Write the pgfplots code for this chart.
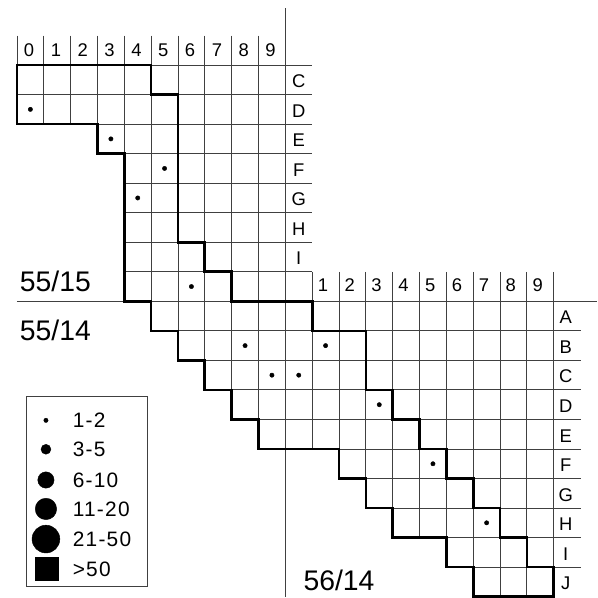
\documentclass[border=0pt]{standalone}
\usepackage{fontspec}
\setmainfont{Liberation Sans}
\usepackage{pgfplots}
\pgfplotsset{compat=1.18}

\newcommand{\labfont}{\fontsize{18.5}{18.5}\selectfont}
\newcommand{\sheetfont}{\fontsize{28.5}{28.5}\selectfont}
\newcommand{\legfont}{\fontsize{21}{21}\selectfont\addfontfeatures{LetterSpace=6}}

\begin{document}
\begin{tikzpicture}
\begin{axis}[
    scale only axis,
    width=598bp, height=598bp,
    xmin=-0.632, xmax=21.6,
    ymin=-2.203, ymax=18.0,
    y dir=reverse,
    hide axis,
    clip=false,
    thin grid/.style={black!75, line width=0.9bp},
    bold line/.style={black, line width=2.7bp, line join=miter, line cap=rect},
]
% keep the whole frame in the bounding box
\path (rel axis cs:0,0) rectangle (rel axis cs:1,1);

% thin cell lines: start point and length of each segment
\addplot[thin grid, quiver={u=\thisrow{du}, v=\thisrow{dv}}] table {
x  y     du    dv
0  0     11    0
0  1     11    0
0  2     11    0
3  3     8     0
4  4     7     0
4  5     7     0
4  6     7     0
4  7     7     0
0  8     21.6  0
5  9     16    0
6  10    15    0
7  11    14    0
8  12    13    0
9  13    12    0
12 14    9     0
13 15    8     0
14 16    7     0
16 17    5     0
0  -1    0     3
1  -1    0     3
2  -1    0     3
3  -1    0     4
4  -1    0     9
5  -1    0     10
6  -1    0     11
7  -1    0     12
8  -1    0     13
9  -1    0     14
10 -1.93 0     19.93
11 7     0     6
12 7     0     7
13 7     0     8
14 7     0     9
15 7     0     9
16 7     0     10
17 7     0     11
18 7     0     11
19 7     0     11
20 7     0     11
};

% outer boundary (left and lower staircase)
\addplot[bold line] coordinates {
(5,0) (0,0) (0,2) (3,2) (3,3) (4,3) (4,8) (5,8) (5,9) (6,9) (6,10) (7,10)
(7,11) (8,11) (8,12) (9,12) (9,13) (12,13) (12,14) (13,14) (13,15) (14,15)
(14,16) (16,16) (16,17) (17,17) (17,18) (20,18) (20,17)
};
% upper staircase
\addplot[bold line] coordinates {
(5,0) (5,1) (6,1) (6,6) (7,6) (7,7) (8,7) (8,8) (11,8) (11,9) (13,9) (13,11)
(14,11) (14,12) (15,12) (15,13) (16,13) (16,14) (17,14) (17,15) (18,15)
(18,16) (19,16) (19,17) (20,17) (20,18)
};

% records (all in class 1-2)
\addplot[only marks, mark=*, mark size=2.2, black] coordinates {
(0.5,1.5) (3.5,2.5) (5.5,3.5) (4.5,4.5) (6.5,7.5) (8.5,9.5) (11.5,9.5)
(9.5,10.5) (10.5,10.5) (13.5,11.5) (15.5,13.5) (17.5,15.5)
};

% column and row labels, 55/15
\node[font=\labfont] at (axis cs:0.45,-0.5) {0};
\node[font=\labfont] at (axis cs:1.45,-0.5) {1};
\node[font=\labfont] at (axis cs:2.45,-0.5) {2};
\node[font=\labfont] at (axis cs:3.45,-0.5) {3};
\node[font=\labfont] at (axis cs:4.45,-0.5) {4};
\node[font=\labfont] at (axis cs:5.45,-0.5) {5};
\node[font=\labfont] at (axis cs:6.45,-0.5) {6};
\node[font=\labfont] at (axis cs:7.45,-0.5) {7};
\node[font=\labfont] at (axis cs:8.45,-0.5) {8};
\node[font=\labfont] at (axis cs:9.45,-0.5) {9};
\node[font=\labfont] at (axis cs:10.5,0.55) {C};
\node[font=\labfont] at (axis cs:10.5,1.55) {D};
\node[font=\labfont] at (axis cs:10.5,2.55) {E};
\node[font=\labfont] at (axis cs:10.5,3.55) {F};
\node[font=\labfont] at (axis cs:10.5,4.55) {G};
\node[font=\labfont] at (axis cs:10.5,5.55) {H};
\node[font=\labfont] at (axis cs:10.5,6.55) {I};
% column and row labels, 56/14
\node[font=\labfont] at (axis cs:11.4,7.45) {1};
\node[font=\labfont] at (axis cs:12.4,7.45) {2};
\node[font=\labfont] at (axis cs:13.4,7.45) {3};
\node[font=\labfont] at (axis cs:14.4,7.45) {4};
\node[font=\labfont] at (axis cs:15.4,7.45) {5};
\node[font=\labfont] at (axis cs:16.4,7.45) {6};
\node[font=\labfont] at (axis cs:17.4,7.45) {7};
\node[font=\labfont] at (axis cs:18.4,7.45) {8};
\node[font=\labfont] at (axis cs:19.4,7.45) {9};
\node[font=\labfont] at (axis cs:20.45,8.55) {A};
\node[font=\labfont] at (axis cs:20.45,9.55) {B};
\node[font=\labfont] at (axis cs:20.45,10.55) {C};
\node[font=\labfont] at (axis cs:20.45,11.55) {D};
\node[font=\labfont] at (axis cs:20.45,12.55) {E};
\node[font=\labfont] at (axis cs:20.45,13.55) {F};
\node[font=\labfont] at (axis cs:20.45,14.55) {G};
\node[font=\labfont] at (axis cs:20.45,15.55) {H};
\node[font=\labfont] at (axis cs:20.45,16.55) {I};
\node[font=\labfont] at (axis cs:20.45,17.55) {J};

% sheet names
\node[font=\sheetfont] at (axis cs:1.43,7.33) {55/15};
\node[font=\sheetfont] at (axis cs:1.43,8.99) {55/14};
\node[font=\sheetfont] at (axis cs:12.0,17.45) {56/14};

% legend
\draw[black!75, line width=0.9bp] (axis cs:0.372,11.22) rectangle (axis cs:4.87,17.67);
\addplot[only marks, mark=*, mark size=2.2, black] coordinates {(1.08,12.03)};
\addplot[only marks, mark=*, mark size=5, black] coordinates {(1.08,13.01)};
\addplot[only marks, mark=*, mark size=8.2, black] coordinates {(1.08,14.05)};
\addplot[only marks, mark=*, mark size=10.8, black] coordinates {(1.08,15.03)};
\addplot[only marks, mark=*, mark size=14, black] coordinates {(1.08,16.05)};
\addplot[only marks, mark=square*, mark size=11.5, black] coordinates {(1.10,17.06)};
\node[font=\legfont, anchor=west] at (axis cs:1.95,12.03) {1-2};
\node[font=\legfont, anchor=west] at (axis cs:1.95,13.01) {3-5};
\node[font=\legfont, anchor=west] at (axis cs:1.95,14.05) {6-10};
\node[font=\legfont, anchor=west] at (axis cs:1.95,15.03) {11-20};
\node[font=\legfont, anchor=west] at (axis cs:1.95,16.05) {21-50};
\node[font=\legfont, anchor=west] at (axis cs:1.95,17.06) {>50};
\end{axis}
\end{tikzpicture}
\end{document}
